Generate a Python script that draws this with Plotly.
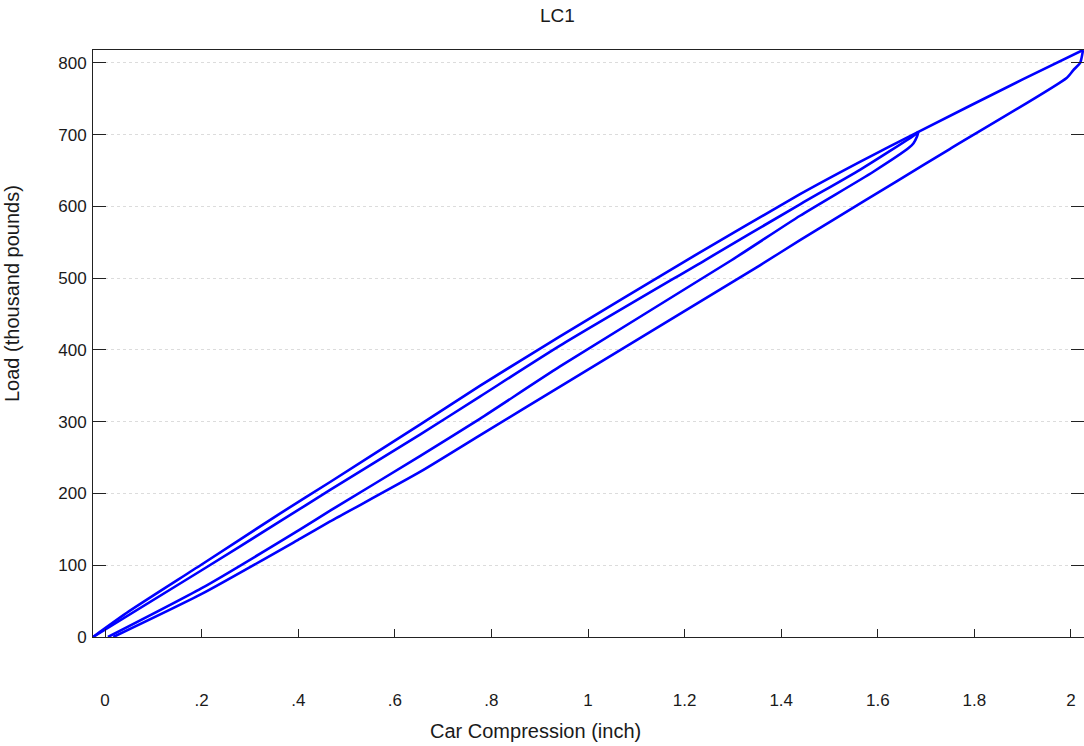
import plotly.graph_objects as go

# Cycle 1 loading
load1_x = [-0.025, 0.2, 0.362, 0.466, 0.652, 0.776, 0.942, 1.242, 1.439, 1.563, 1.677, 1.684]
load1_y = [0, 93, 161, 205, 282, 335, 406, 525, 603, 651, 700, 704]
# Cycle 1 unloading
unload1_x = [1.684, 1.681, 1.674, 1.665, 1.59, 1.439, 1.297, 0.942, 0.776, 0.652, 0.466, 0.404, 0.2, 0.006]
unload1_y = [704, 697, 688, 682, 648, 587, 525, 377, 304, 252, 176, 150, 68, 0]
# Cycle 2 loading
load2_x = [-0.025, 0.05, 0.2, 0.362, 0.466, 0.652, 0.776, 0.942, 1.204, 1.439, 1.563, 1.684, 1.90, 2.025]
load2_y = [0, 36, 101, 172, 216, 296, 350, 419, 525, 617, 662, 704, 777, 818]
# Cycle 2 unloading
unload2_x = [2.025, 2.019, 2.005, 1.991, 1.749, 1.639, 1.507, 1.439, 1.356, 0.942, 0.776, 0.652, 0.466, 0.404, 0.2, 0.017]
unload2_y = [818, 800, 790, 779, 680, 635, 581, 553, 518, 349, 281, 230, 161, 137, 60, 0]

x_tickvals = [0, 0.2, 0.4, 0.6, 0.8, 1.0, 1.2, 1.4, 1.6, 1.8, 2.0]
x_ticktext = ["0", ".2", ".4", ".6", ".8", "1", "1.2", "1.4", "1.6", "1.8", "2"]
y_tickvals = [0, 100, 200, 300, 400, 500, 600, 700, 800]

FONT = "Arial, Liberation Sans, sans-serif"
BLUE = "#0000ff"

fig = go.Figure()
for xs, ys in [(load1_x, load1_y), (unload1_x, unload1_y), (load2_x, load2_y), (unload2_x, unload2_y)]:
    fig.add_trace(go.Scatter(x=xs, y=ys, mode="lines",
                             line=dict(color=BLUE, width=2.6, shape="spline", smoothing=0.6),
                             showlegend=False, hoverinfo="skip"))

fig.update_layout(
    width=1084, height=746,
    margin=dict(l=93, r=0, t=50, b=109),
    paper_bgcolor="white", plot_bgcolor="white",
    font=dict(family=FONT, size=17, color="#1a1a1a"),
    xaxis=dict(range=[-0.025, 2.027], tickvals=x_tickvals, ticktext=x_ticktext,
               ticks="inside", ticklen=8, tickcolor="#222", tickwidth=1,
               showline=True, linecolor="#222", linewidth=1, mirror=True,
               showgrid=False, zeroline=False, ticklabelstandoff=48,
               tickfont=dict(size=17)),
    yaxis=dict(range=[0, 818], tickvals=y_tickvals,
               ticks="inside", ticklen=13, tickcolor="#222", tickwidth=1,
               showline=True, linecolor="#222", linewidth=1, mirror="ticks",
               showgrid=True, gridcolor="#dcdcdc", griddash="dot", gridwidth=1,
               zeroline=False, ticklabelstandoff=2,
               tickfont=dict(size=17)),
    annotations=[
        dict(text="LC1", xref="paper", yref="paper",
             x=(557 - 93) / 991, y=(637 - 15.5) / 587,
             showarrow=False, xanchor="center", yanchor="middle",
             font=dict(size=19, family=FONT, color="#1a1a1a")),
        dict(text="Car Compression (inch)", xref="paper", yref="paper",
             x=(535.5 - 93) / 991, y=(637 - 731) / 587,
             showarrow=False, xanchor="center", yanchor="middle",
             font=dict(size=20, family=FONT, color="#1a1a1a")),
        dict(text="Load (thousand pounds)", xref="paper", yref="paper",
             x=(12 - 93) / 991, y=(637 - 294) / 587, textangle=-90,
             showarrow=False, xanchor="center", yanchor="middle",
             font=dict(size=20, family=FONT, color="#1a1a1a")),
    ],
)

fig.write_html("out.html", config={"displayModeBar": False},
               post_script="document.body.style.margin='0';document.body.style.overflow='hidden';")
